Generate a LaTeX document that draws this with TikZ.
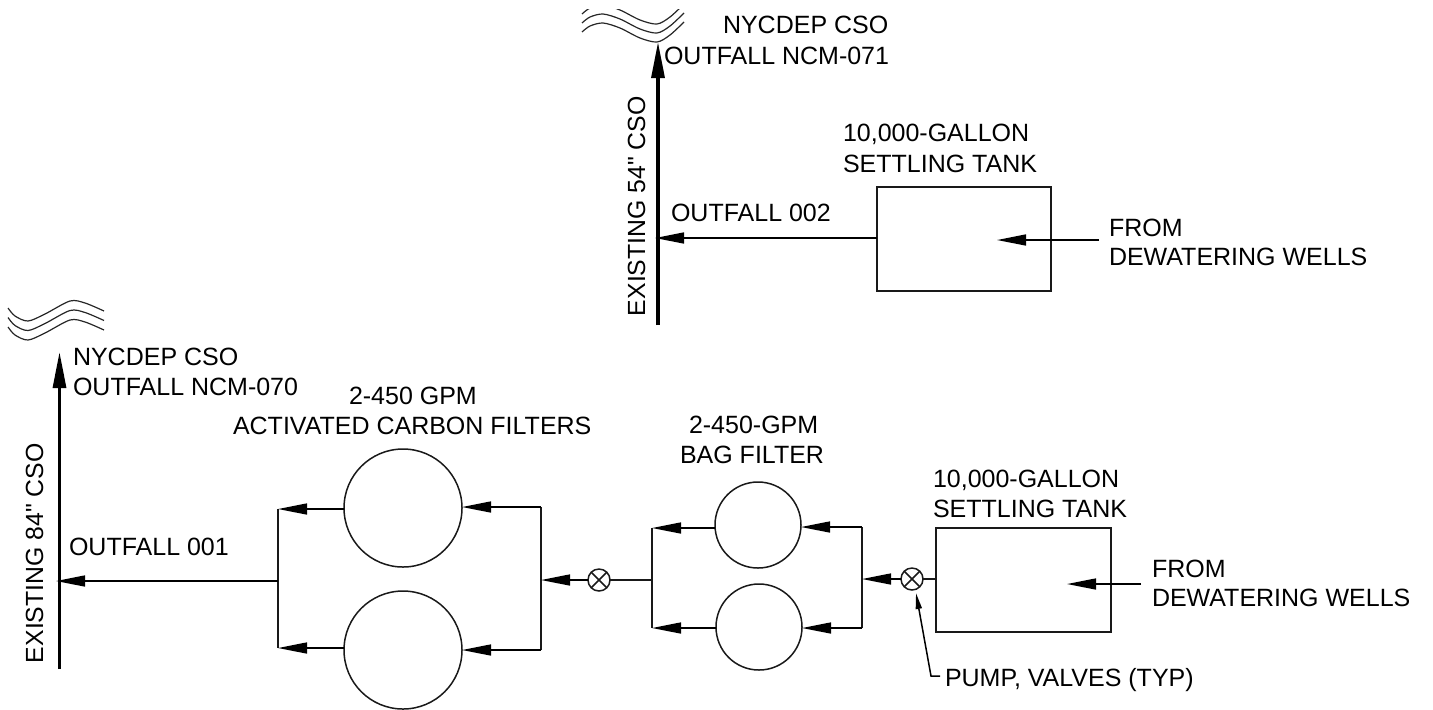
\documentclass[tikz,border=0pt]{standalone}
\usepackage{fontspec}
\newfontfamily\plainsans{Liberation Sans}
\usetikzlibrary{arrows.meta}
\tikzset{
  x=0.5pt,y=-0.5pt,
  wire/.style={line width=0.75pt,black!90},
  lead/.style={wire,-{Triangle[length=14.5pt,width=5.5pt]},color=black},
  small/.style={wire,-{Triangle[length=8pt,width=3pt]},color=black},
  main/.style={line width=1.6pt,black,-{Triangle[length=18pt,width=6.5pt]}},
  wavy/.style={line width=0.6pt,black!85},
  box/.style={draw,wire,rectangle,inner sep=0pt,outer sep=0pt},
  disc/.style={draw,wire,circle,inner sep=0pt,outer sep=0pt},
  valve/.style={disc,minimum size=11pt},
  lbl/.style={anchor=base west,inner sep=0pt,outer sep=0pt,font=\plainsans\fontsize{12.5}{15}\selectfont},
  rlbl/.style={lbl,rotate=90,font=\plainsans\fontsize{12.4}{15}\selectfont},
}
\begin{document}
\begin{tikzpicture}
\useasboundingbox (0,0) rectangle (1433,709);
% waves
\begin{scope}
\clip (570,9) rectangle (700,60);
\foreach \d in {-18,-9,0}{
\draw[wavy] plot[smooth] coordinates {(582,32+\d) (590,26+\d) (603,23+\d) (620,28+\d) (640,38+\d) (657,42+\d) (670,35+\d) (684,22+\d)};
}
\end{scope}
\foreach \d in {0,9.5,19}{
\draw[wavy] plot[smooth] coordinates {(8,308+\d) (15,316+\d) (28,321+\d) (45,314+\d) (70,301+\d) (85,303+\d) (104,311+\d)};
}
% CSO lines
\coordinate (top0) at (658,325); \coordinate (top1) at (658,42);
\coordinate (bot0) at (59.5,669); \coordinate (bot1) at (59.5,352);
\draw[main] (top0) -- (top1);
\draw[main] (bot0) -- (bot1);
% top train
\node[box,minimum width=87pt,minimum height=52pt] (tankA) at (964,239) {};
\coordinate (joinA) at (655,238);
\coordinate (inA) at (1099,240); \coordinate (inAtip) at (997,240);
\draw[lead] (tankA.west |- joinA) -- (joinA);
\draw[lead] (inA) -- (inAtip);
% bottom tank
\node[box,minimum width=87.5pt,minimum height=52pt] (tankB) at (1023.5,580) {};
\coordinate (inB) at (1141,584); \coordinate (inBtip) at (1067,584);
\draw[lead] (inB) -- (inBtip);
% valves
\node[valve] (vB) at (912,579) {};
\node[valve] (vA) at (599,580) {};
\foreach \v in {vA,vB}{
\draw[wire] (\v.45) -- (\v.225) (\v.135) -- (\v.315);
}
% bag filters
\node[disc,minimum size=43pt] (bag1) at (758,525) {};
\node[disc,minimum size=43pt] (bag2) at (759,627) {};
\coordinate (bagRt) at (862,527); \coordinate (bagRb) at (862,628);
\coordinate (bagRm) at (862,579);
\coordinate (bagLt) at (652,528); \coordinate (bagLb) at (652,628);
\coordinate (bagLm) at (652,580);
\draw[wire] (bagRt) -- (bagRb);
\draw[wire] (bagLt) -- (bagLb);
\draw[lead] (bagRt) -- (bag1.east |- bagRt);
\draw[lead] (bagRb) -- (bag2.east |- bagRb);
\draw[lead] (bag1.west |- bagLt) -- (bagLt);
\draw[lead] (bag2.west |- bagLb) -- (bagLb);
\draw[wire] (tankB.west |- vB) -- (vB.east);
\draw[lead] (vB.west) -- (bagRm);
% carbon filters
\node[disc,minimum size=59pt] (car1) at (403,508) {};
\node[disc,minimum size=59pt] (car2) at (403,650) {};
\coordinate (carRt) at (541,507); \coordinate (carRb) at (541,650);
\coordinate (carRm) at (541,580);
\coordinate (carLt) at (278,509); \coordinate (carLb) at (278,648);
\coordinate (carLm) at (278,581);
\coordinate (outB) at (56,581);
\draw[wire] (carRt) -- (carRb);
\draw[wire] (carLt) -- (carLb);
\draw[lead] (carRt) -- (car1.east |- carRt);
\draw[lead] (carRb) -- (car2.east |- carRb);
\draw[lead] (car1.west |- carLt) -- (carLt);
\draw[lead] (car2.west |- carLb) -- (carLb);
\draw[wire] (bagLm) -- (vA.east);
\draw[lead] (vA.west) -- (carRm);
\draw[lead] (carLm) -- (outB);
% pump leader
\coordinate (pumpEnd) at (940,676); \coordinate (pumpBend) at (931,676); \coordinate (pumpTip) at (916,593);
\draw[small] (pumpEnd) -- (pumpBend) -- (pumpTip);
% labels
\node[lbl] (t1) at (723,33) {NYCDEP CSO};
\node[lbl] (t2) at (664,64) {OUTFALL NCM-071};
\node[rlbl] (t3) at (645,316) {EXISTING 54" CSO};
\node[lbl] (t4) at (843,141) {10,000-GALLON};
\node[lbl] (t5) at (843,172) {SETTLING TANK};
\node[lbl] (t6) at (671,221) {OUTFALL 002};
\node[lbl] (t7) at (1109,236) {FROM};
\node[lbl] (t8) at (1109,265) {DEWATERING WELLS};
\node[lbl] (t9) at (73,365) {NYCDEP CSO};
\node[lbl] (t10) at (73,395) {OUTFALL NCM-070};
\node[lbl] (t11) at (349,404) {2-450 GPM};
\node[lbl] (t12) at (233,434) {ACTIVATED CARBON FILTERS};
\node[lbl] (t13) at (689,433) {2-450-GPM};
\node[lbl] (t14) at (680,463) {BAG FILTER};
\node[lbl] (t15) at (933,487) {10,000-GALLON};
\node[lbl] (t16) at (933,517) {SETTLING TANK};
\node[lbl] (t17) at (1152,577) {FROM};
\node[lbl] (t18) at (1152,606) {DEWATERING WELLS};
\node[lbl] (t19) at (69,555) {OUTFALL 001};
\node[rlbl] (t20) at (43,663) {EXISTING 84" CSO};
\node[lbl] (t21) at (945,686) {PUMP, VALVES (TYP)};
\end{tikzpicture}
\end{document}
